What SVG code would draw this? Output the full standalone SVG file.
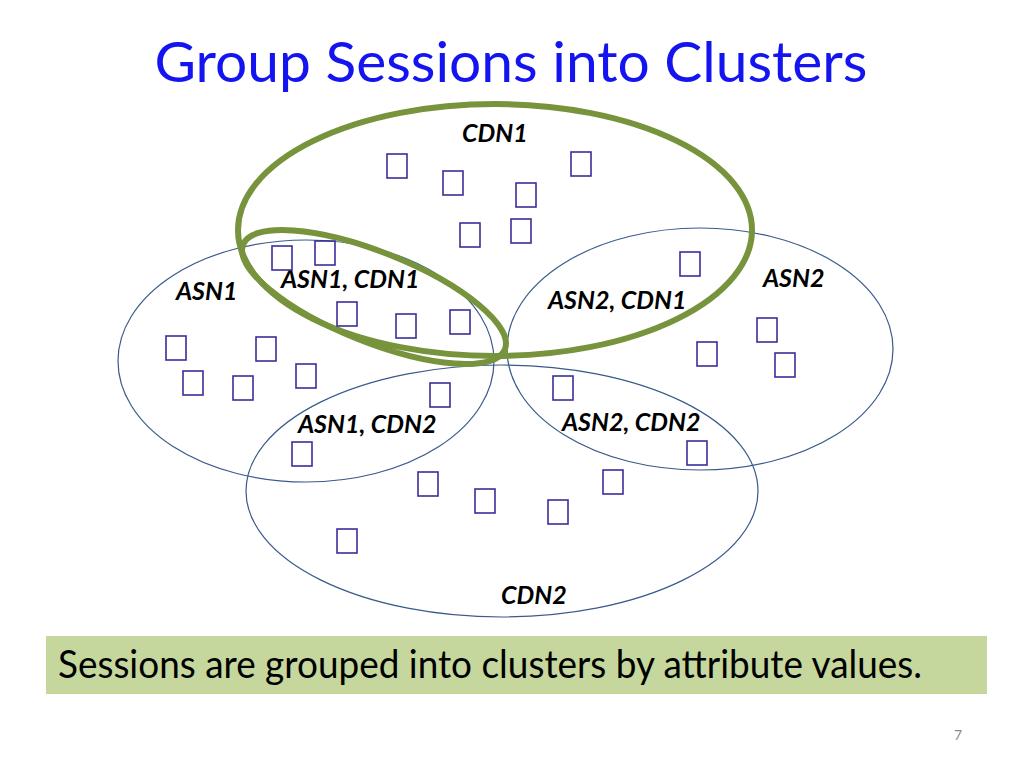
<svg xmlns="http://www.w3.org/2000/svg" width="1024" height="768" viewBox="0 0 1024 768">
<style>
.set{fill:none;stroke:#3A5A8C;stroke-width:1.2}
.hl{fill:none;stroke:#77933C;stroke-width:6}
.s{fill:none;stroke:#3B2E9C;stroke-width:1.6}
.lbl{font-family:Lato,"Liberation Sans",sans-serif;font-weight:bold;font-style:italic;font-size:25px;fill:#000}
</style>
<rect width="1024" height="768" fill="#fff"/>
<text x="511" y="82" text-anchor="middle" font-family="Lato,'Liberation Sans',sans-serif" font-size="56" fill="#1414F0" textLength="713" lengthAdjust="spacingAndGlyphs">Group Sessions into Clusters</text>

<g id="asn1"><ellipse class="set" cx="306" cy="361" rx="188" ry="121"/><text class="lbl" x="176" y="300">ASN1</text></g>
<g id="asn2"><ellipse class="set" cx="700" cy="349" rx="193" ry="121"/><text class="lbl" x="763" y="287">ASN2</text></g>
<g id="cdn2"><ellipse class="set" cx="502" cy="491" rx="256" ry="126"/><text class="lbl" x="501" y="604">CDN2</text></g>
<g id="cdn1"><ellipse class="hl" cx="495" cy="230" rx="257" ry="126"/><text class="lbl" x="462" y="142">CDN1</text></g>
<g id="asn1cdn1"><ellipse class="hl" cx="374" cy="297" rx="141" ry="45" transform="rotate(21.8 374 297)"/><text class="lbl" x="281" y="288">ASN1, CDN1</text></g>
<g id="asn2cdn1"><text class="lbl" x="548" y="309">ASN2, CDN1</text></g>
<g id="asn1cdn2"><text class="lbl" x="298" y="433">ASN1, CDN2</text></g>
<g id="asn2cdn2"><text class="lbl" x="562" y="431">ASN2, CDN2</text></g>

<g id="sessions">
<rect class="s" x="387" y="154" width="20" height="24"/>
<rect class="s" x="443" y="171" width="20" height="24"/>
<rect class="s" x="516" y="183" width="20" height="24"/>
<rect class="s" x="571" y="152" width="20" height="24"/>
<rect class="s" x="460" y="223" width="20" height="24"/>
<rect class="s" x="511" y="219" width="20" height="24"/>
<rect class="s" x="272" y="246" width="20" height="24"/>
<rect class="s" x="315" y="241" width="20" height="24"/>
<rect class="s" x="337" y="302" width="20" height="24"/>
<rect class="s" x="396" y="314" width="20" height="24"/>
<rect class="s" x="450" y="310" width="20" height="24"/>
<rect class="s" x="680" y="252" width="20" height="24"/>
<rect class="s" x="757" y="318" width="20" height="24"/>
<rect class="s" x="697" y="342" width="20" height="24"/>
<rect class="s" x="775" y="353" width="20" height="24"/>
<rect class="s" x="166" y="336" width="20" height="24"/>
<rect class="s" x="256" y="337" width="20" height="24"/>
<rect class="s" x="183" y="371" width="20" height="24"/>
<rect class="s" x="233" y="376" width="20" height="24"/>
<rect class="s" x="296" y="364" width="20" height="24"/>
<rect class="s" x="430" y="383" width="20" height="24"/>
<rect class="s" x="292" y="442" width="20" height="24"/>
<rect class="s" x="553" y="376" width="20" height="24"/>
<rect class="s" x="687" y="441" width="20" height="24"/>
<rect class="s" x="418" y="472" width="20" height="24"/>
<rect class="s" x="475" y="489" width="20" height="24"/>
<rect class="s" x="548" y="500" width="20" height="24"/>
<rect class="s" x="603" y="470" width="20" height="24"/>
<rect class="s" x="337" y="529" width="20" height="24"/>
</g>
<g id="connectors"/>

<g id="caption">
<rect x="46" y="636" width="941" height="58" fill="#C5D79D"/>
<text x="58" y="678" font-family="Lato,'Liberation Sans',sans-serif" font-size="38" fill="#000" textLength="864" lengthAdjust="spacingAndGlyphs">Sessions are grouped into clusters by attribute values.</text>
</g>
<text x="958" y="740" font-family="Lato,'Liberation Sans',sans-serif" font-size="14" fill="#8C8C8C" text-anchor="middle">7</text>
</svg>
